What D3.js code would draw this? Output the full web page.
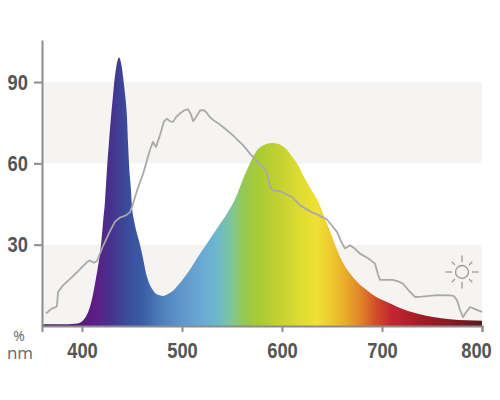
<!DOCTYPE html>
<html>
<head>
<meta charset="utf-8">
<script src="https://cdn.jsdelivr.net/npm/d3@7"></script>
<style>
  body { margin: 0; background: #fff; }
  svg { display: block; }
</style>
</head>
<body>
<svg id="chart" width="500" height="400"></svg>
<script>
// LED spectrum (coloured area), relative intensity in %
const ledNm = [360, 380, 393, 398, 401, 404, 407, 410, 413, 416, 419, 421, 423, 425, 427, 429, 431, 432, 434, 436, 437,
    438, 440, 442, 444, 445, 446, 447, 449, 450, 452, 455, 458, 461, 464, 467, 471, 476, 481, 486, 491, 496, 502,
    508, 516, 525, 535, 545, 552, 558, 563, 568, 575, 582, 591, 596, 600, 605, 610, 615, 622, 629, 636, 642, 648,
    653, 658, 663, 668, 676, 685, 693, 701, 710, 718, 726, 735, 751, 768, 785, 800];
const ledValue = [0.6, 0.6, 0.8, 1.2, 2, 3.5, 6, 10, 15.6, 22, 30, 38, 46, 58, 68, 77, 85, 89, 95, 98.5, 99,
    98.5, 95, 89, 82, 77, 68, 60, 50, 44, 39, 34, 30, 25, 19.5, 16, 13.2, 11.5, 11.1, 11.8, 13, 15, 17.8,
    20.8, 25.5, 30.4, 36, 41.5, 46, 51.3, 56, 60, 64.8, 66.8, 67.5, 67.2, 66.5, 65, 62.5, 60, 55, 50.5, 46, 40.5, 35,
    30, 25.5, 22, 19.4, 16, 13.2, 11, 9.5, 8, 6.6, 5.5, 4.6, 3.3, 2.5, 2.1, 1.9];

// daylight reference (grey line)
const sunNm = [364, 370, 374, 375, 376, 381, 390, 398, 405, 408, 412, 415, 421, 428, 433, 438, 444, 448, 451, 455,
    461, 468, 471, 474, 478, 482, 485, 488, 491, 494, 498, 502, 506, 509, 511, 513, 515, 518, 522, 525, 528, 533,
    538, 545, 551, 556, 561, 568, 576, 581, 585, 588, 591, 598, 605, 611, 618, 628, 636, 645, 650, 655, 660, 663,
    666, 668, 673, 678, 686, 693, 696, 698, 705, 711, 716, 721, 727, 733, 740, 745, 755, 768, 772, 775, 778, 781,
    784, 788, 793, 800];
const sunValue = [4.6, 6.5, 7, 7.5, 12.5, 15, 18, 21, 23.6, 24.2, 23.3, 24, 29.5, 35, 38.5, 40, 40.8, 42, 45, 50,
    56, 65, 67.9, 66, 70.5, 75.5, 76.5, 75.5, 75.3, 77, 78.4, 79.5, 80, 78, 75.6, 76.5, 77.7, 79.5, 79.6, 78.5, 77, 75.5,
    74.3, 72.2, 70.3, 68.5, 66.7, 63.6, 60.3, 58.7, 56.5, 51.5, 50, 49.7, 48.5, 47.3, 44.5, 42.3, 41, 39.3, 37, 34.7, 30.5, 28.6,
    29.3, 29.8, 28.5, 26.7, 25, 23, 19, 17, 17, 17, 16.5, 15.6, 13, 10.7, 10.8, 11, 11.4, 11.3, 11, 9.5, 6, 3.3,
    5, 7, 6.2, 5.2];

// colour of light at each wavelength
const colorNm = [360, 400, 415, 430, 445, 460, 480, 500, 520, 535, 548, 560, 575, 595, 615, 635, 650, 665, 680,
    695, 710, 740, 770, 800];
const colorHex = ["#4a2060", "#581c7e", "#5b1f86", "#45338f", "#3a4c9c", "#3a5ca6", "#4f80bb", "#5f98cc",
    "#6aa8d5", "#6cb8cc", "#7cc4a0", "#92c85a", "#a6cb35", "#c0d030", "#dcdb30", "#f0e035", "#eec830",
    "#e8a828", "#df7f28", "#d04a28", "#c22530", "#a21c28", "#851a22", "#5a1c1e"];

const yTicks = [30, 60, 90];
const xTicks = [400, 500, 600, 700, 800];
const bandRanges = [[60, 90], [0, 30]];

const svg = d3.select("#chart");

const x = d3.scaleLinear().domain([360, 800]).range([42, 482]);
const y = d3.scaleLinear().domain([0, 105.5]).range([326, 40]);

// light bands
svg.selectAll("rect.band")
    .data(bandRanges)
    .enter()
    .append("rect")
    .attr("class", "band")
    .attr("x", x(360))
    .attr("width", x(800) - x(360))
    .attr("y", d => y(d[1]))
    .attr("height", d => y(d[0]) - y(d[1]))
    .attr("fill", "#f5f4f2");

// spectrum gradient
const grad = svg.append("defs")
    .append("linearGradient")
    .attr("id", "spectrum")
    .attr("gradientUnits", "userSpaceOnUse")
    .attr("x1", x(360)).attr("x2", x(800))
    .attr("y1", 0).attr("y2", 0);

grad.selectAll("stop")
    .data(colorNm)
    .enter()
    .append("stop")
    .attr("offset", d => (d - 360) / (800 - 360))
    .attr("stop-color", (d, i) => colorHex[i]);

const ledData = ledNm.map((d, i) => [d, ledValue[i]]);
const sunData = sunNm.map((d, i) => [d, sunValue[i]]);

svg.append("path")
    .datum(ledData)
    .attr("fill", "url(#spectrum)")
    .attr("d", d3.area()
        .curve(d3.curveMonotoneX)
        .x(d => x(d[0]))
        .y0(y(0))
        .y1(d => y(d[1])));

svg.append("path")
    .datum(sunData)
    .attr("fill", "none")
    .attr("stroke", "#a9a9a9")
    .attr("stroke-width", 1.8)
    .attr("stroke-linejoin", "round")
    .attr("d", d3.line()
        .x(d => x(d[0]))
        .y(d => y(d[1])));

// axes
const yAxis = svg.append("g")
    .attr("transform", `translate(${x(360)},0)`)
    .call(d3.axisLeft(y)
        .tickValues(yTicks)
        .tickSize(8)
        .tickSizeOuter(0)
        .tickPadding(6)
        .tickFormat(d3.format("d")));

const xAxis = svg.append("g")
    .attr("transform", `translate(0,${y(0)})`)
    .call(d3.axisBottom(x)
        .tickValues(xTicks)
        .tickSize(6)
        .tickSizeOuter(6)
        .tickPadding(10)
        .tickFormat(d3.format("d")));

[yAxis, xAxis].forEach(g => {
    g.selectAll("path.domain, line")
        .attr("stroke", "#8c8c8c")
        .attr("stroke-width", 2);
    // bold digits squeezed to the width of the original condensed face
    g.selectAll("text")
        .attr("fill", "#555")
        .attr("textLength", function() { return this.textContent.length * 10.2; })
        .attr("lengthAdjust", "spacingAndGlyphs")
        .style("font-family", "'Liberation Sans', Arial, sans-serif")
        .style("font-weight", "bold")
        .style("font-size", "22px");
});

// last label sits a little inside the right edge
xAxis.selectAll(".tick text")
    .filter(d => d === 800)
    .attr("dx", -6);

// unit labels
svg.append("text")
    .attr("x", 19).attr("y", 341)
    .attr("text-anchor", "middle")
    .attr("fill", "#666")
    .style("font-family", "'Open Sans', sans-serif")
    .style("font-size", "14px")
    .text("%");

svg.append("text")
    .attr("x", 20).attr("y", 359)
    .attr("text-anchor", "middle")
    .attr("fill", "#666")
    .style("font-family", "'Open Sans', sans-serif")
    .style("font-size", "17px")
    .text("nm");

// sun icon
const sun = svg.append("g")
    .attr("transform", "translate(462,272)")
    .attr("stroke", "#a0a0a0")
    .attr("stroke-width", 1.4)
    .attr("fill", "none");

sun.append("circle").attr("r", 6.5);

sun.selectAll("line")
    .data(d3.range(8))
    .enter()
    .append("line")
    .attr("x1", d => Math.cos(d * Math.PI / 4) * 10)
    .attr("y1", d => Math.sin(d * Math.PI / 4) * 10)
    .attr("x2", d => Math.cos(d * Math.PI / 4) * (d % 2 ? 14.5 : 16.5))
    .attr("y2", d => Math.sin(d * Math.PI / 4) * (d % 2 ? 14.5 : 16.5));
</script>
</body>
</html>
